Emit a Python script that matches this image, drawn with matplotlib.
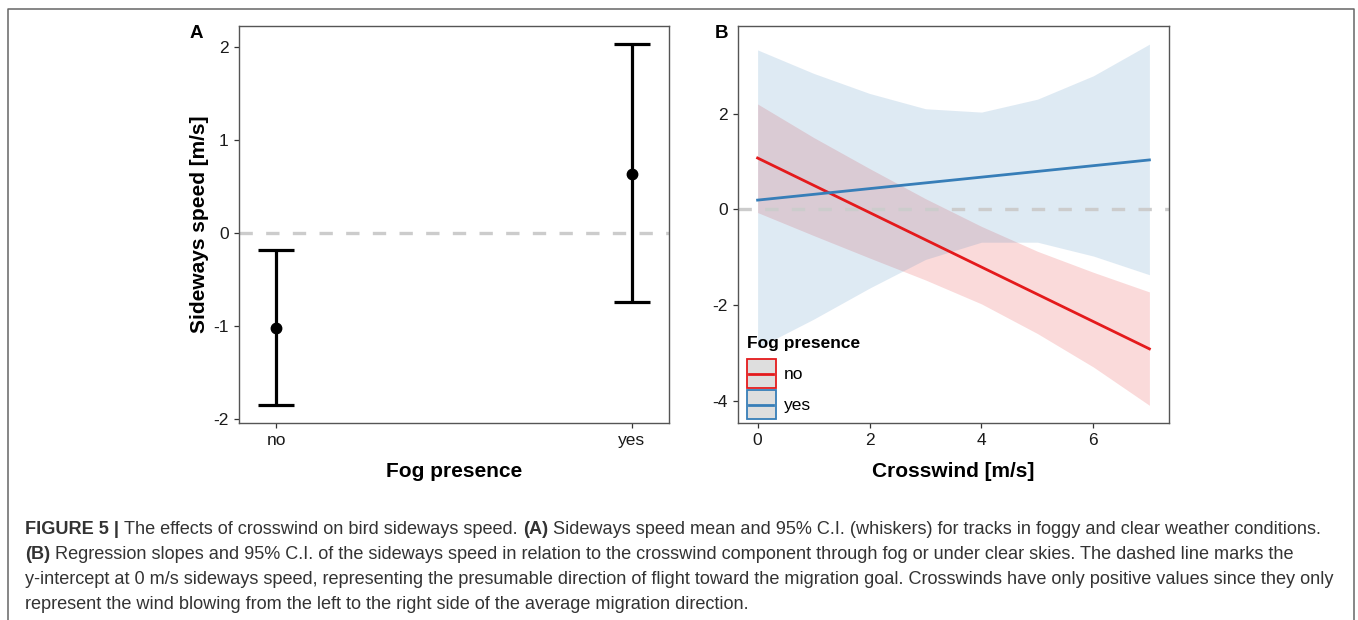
import numpy as np
import matplotlib
matplotlib.use('Agg')
import matplotlib.pyplot as plt
from matplotlib.patches import Rectangle
from matplotlib.lines import Line2D

plt.rcParams['font.family'] = ['Liberation Sans', 'DejaVu Sans']
plt.rcParams['axes.unicode_minus'] = False

# panel A: mean and 95% C.I. of sideways speed per fog condition
fog_levels = ['no', 'yes']
speed_mean = [-1.02, 0.64]
speed_lo = [-1.85, -0.74]
speed_hi = [-0.18, 2.035]

# panel B: regression line and 95% C.I. band against crosswind
crosswind = [0, 1, 2, 3, 4, 5, 6, 7]
no_fit = [1.07, 0.50, -0.07, -0.64, -1.21, -1.78, -2.35, -2.92]
no_upper = [2.2, 1.5, 0.85, 0.22, -0.36, -0.88, -1.32, -1.73]
no_lower = [-0.07, -0.55, -1.02, -1.48, -1.98, -2.6, -3.3, -4.1]
yes_fit = [0.19, 0.31, 0.43, 0.55, 0.67, 0.79, 0.91, 1.03]
yes_upper = [3.33, 2.84, 2.42, 2.10, 2.03, 2.30, 2.79, 3.45]
yes_lower = [-2.9, -2.3, -1.65, -1.05, -0.69, -0.69, -0.98, -1.37]

red = '#E41A1C'
blue = '#377EB8'
W, H = 1358, 620

fig = plt.figure(figsize=(W / 100, H / 100), dpi=100)


def style_axes(ax):
    for sp in ax.spines.values():
        sp.set_color('#555555')
        sp.set_linewidth(1.0)
    ax.tick_params(direction='out', length=3.5, width=0.9, color='#333333',
                   labelsize=12.5, labelcolor='#1a1a1a', pad=4)


class KeyHandler:
    # ggplot-like legend key: grey box with coloured border and a centred line
    def legend_artist(self, legend, orig_handle, fontsize, handlebox):
        x0, y0 = -handlebox.xdescent, -handlebox.ydescent
        w, h = handlebox.width, handlebox.height
        c = orig_handle.get_color()
        tr = handlebox.get_transform()
        rect = Rectangle((x0, y0), w, h, facecolor='#dedede', edgecolor=c,
                         linewidth=1.3, transform=tr)
        line = Line2D([x0 + 1.5, x0 + w - 1.5], [y0 + h / 2] * 2, color=c, lw=2.0,
                      transform=tr)
        handlebox.add_artist(rect)
        handlebox.add_artist(line)
        return rect


# ---- panel A
axA = fig.add_axes([239 / W, 1 - 423 / H, 430 / W, 397 / H])
style_axes(axA)
xpos = np.arange(1, len(fog_levels) + 1)
mean = np.array(speed_mean)
yerr = [mean - np.array(speed_lo), np.array(speed_hi) - mean]
axA.axhline(0, color='#cccccc', lw=2.4, dashes=(4, 4), zorder=1)
axA.errorbar(xpos, mean, yerr=yerr, fmt='o', color='black', ms=7.5,
             elinewidth=2.3, capthick=2.3, capsize=13, zorder=3)
axA.set_xlim(0.895, 2.105)
axA.set_ylim(-2.04, 2.23)
axA.set_xticks(xpos, fog_levels)
axA.set_yticks([-2, -1, 0, 1, 2], ['-2', '-1', '0', '1', '2'])
axA.set_xlabel('Fog presence', fontsize=15, fontweight='bold', labelpad=10)
axA.set_ylabel('Sideways speed [m/s]', fontsize=15, fontweight='bold', labelpad=3)
fig.text(196 / W, 1 - 33 / H, 'A', fontsize=13.5, fontweight='bold', ha='center', va='center')

# ---- panel B
axB = fig.add_axes([738 / W, 1 - 423 / H, 431 / W, 397 / H])
style_axes(axB)
axB.fill_between(crosswind, no_lower, no_upper, color=red, alpha=0.16, lw=0)
axB.fill_between(crosswind, yes_lower, yes_upper, color=blue, alpha=0.16, lw=0)
axB.axhline(0, color='#cccccc', lw=2.4, dashes=(4, 4), zorder=1.5)
no_line, = axB.plot(crosswind, no_fit, color=red, lw=2.0)
yes_line, = axB.plot(crosswind, yes_fit, color=blue, lw=2.0)
axB.set_xlim(-0.35, 7.35)
axB.set_ylim(-4.47, 3.83)
axB.set_xticks([0, 2, 4, 6], ['0', '2', '4', '6'])
axB.set_yticks([-4, -2, 0, 2], ['-4', '-2', '0', '2'])
axB.set_xlabel('Crosswind [m/s]', fontsize=15, fontweight='bold', labelpad=10)
fig.text(722 / W, 1 - 33 / H, 'B', fontsize=13.5, fontweight='bold', ha='center', va='center')

# key box about 29 px square (legend subtracts a descent from handleheight)
leg = axB.legend([no_line, yes_line], fog_levels, handler_map={Line2D: KeyHandler()},
                 title='Fog presence', loc='upper left',
                 bbox_to_anchor=(746.5 / W, 1 - 336 / H), bbox_transform=fig.transFigure,
                 frameon=False, fontsize=12.5, handlelength=20.9 / 12.5, handleheight=2.2,
                 labelspacing=0.1, handletextpad=0.5, borderpad=0, borderaxespad=0,
                 alignment='left', title_fontproperties={'weight': 'bold', 'size': 12.5})
leg._legend_box.sep = 6

# ---- outer frame (open at the bottom)
fig.add_artist(Line2D([8 / W, 8 / W, 1354 / W, 1354 / W], [0, 1 - 9 / H, 1 - 9 / H, 0],
                      transform=fig.transFigure, color='#666666', lw=1.1))

# ---- caption, mixed bold / regular runs
caption = [
    [('FIGURE 5 |', 'bold'), ('The effects of crosswind on bird sideways speed.', 'normal'),
     ('(A)', 'bold'),
     ('Sideways speed mean and 95% C.I. (whiskers) for tracks in foggy and clear weather conditions.', 'normal')],
    [('(B)', 'bold'),
     ('Regression slopes and 95% C.I. of the sideways speed in relation to the crosswind component through fog or under clear skies. The dashed line marks the', 'normal')],
    [('y-intercept at 0 m/s sideways speed, representing the presumable direction of flight toward the migration goal. Crosswinds have only positive values since they only', 'normal')],
    [('represent the wind blowing from the left to the right side of the average migration direction.', 'normal')],
]
cap_size = 13.08
cap_color = '#333333'
baselines = [533.5, 558.8, 584.1, 609.4]

renderer = fig.canvas.get_renderer()
t1 = fig.text(0, 0, 'a a', fontsize=cap_size)
t2 = fig.text(0, 0, 'aa', fontsize=cap_size)
space_w = t1.get_window_extent(renderer).width - t2.get_window_extent(renderer).width
t1.remove()
t2.remove()

for runs, yb in zip(caption, baselines):
    x = 25.0
    for s, wt in runs:
        t = fig.text(x / W, 1 - yb / H, s, fontsize=cap_size, fontweight=wt,
                     color=cap_color, ha='left', va='baseline')
        x += t.get_window_extent(renderer).width + space_w

fig.savefig('out.png', dpi=100)
